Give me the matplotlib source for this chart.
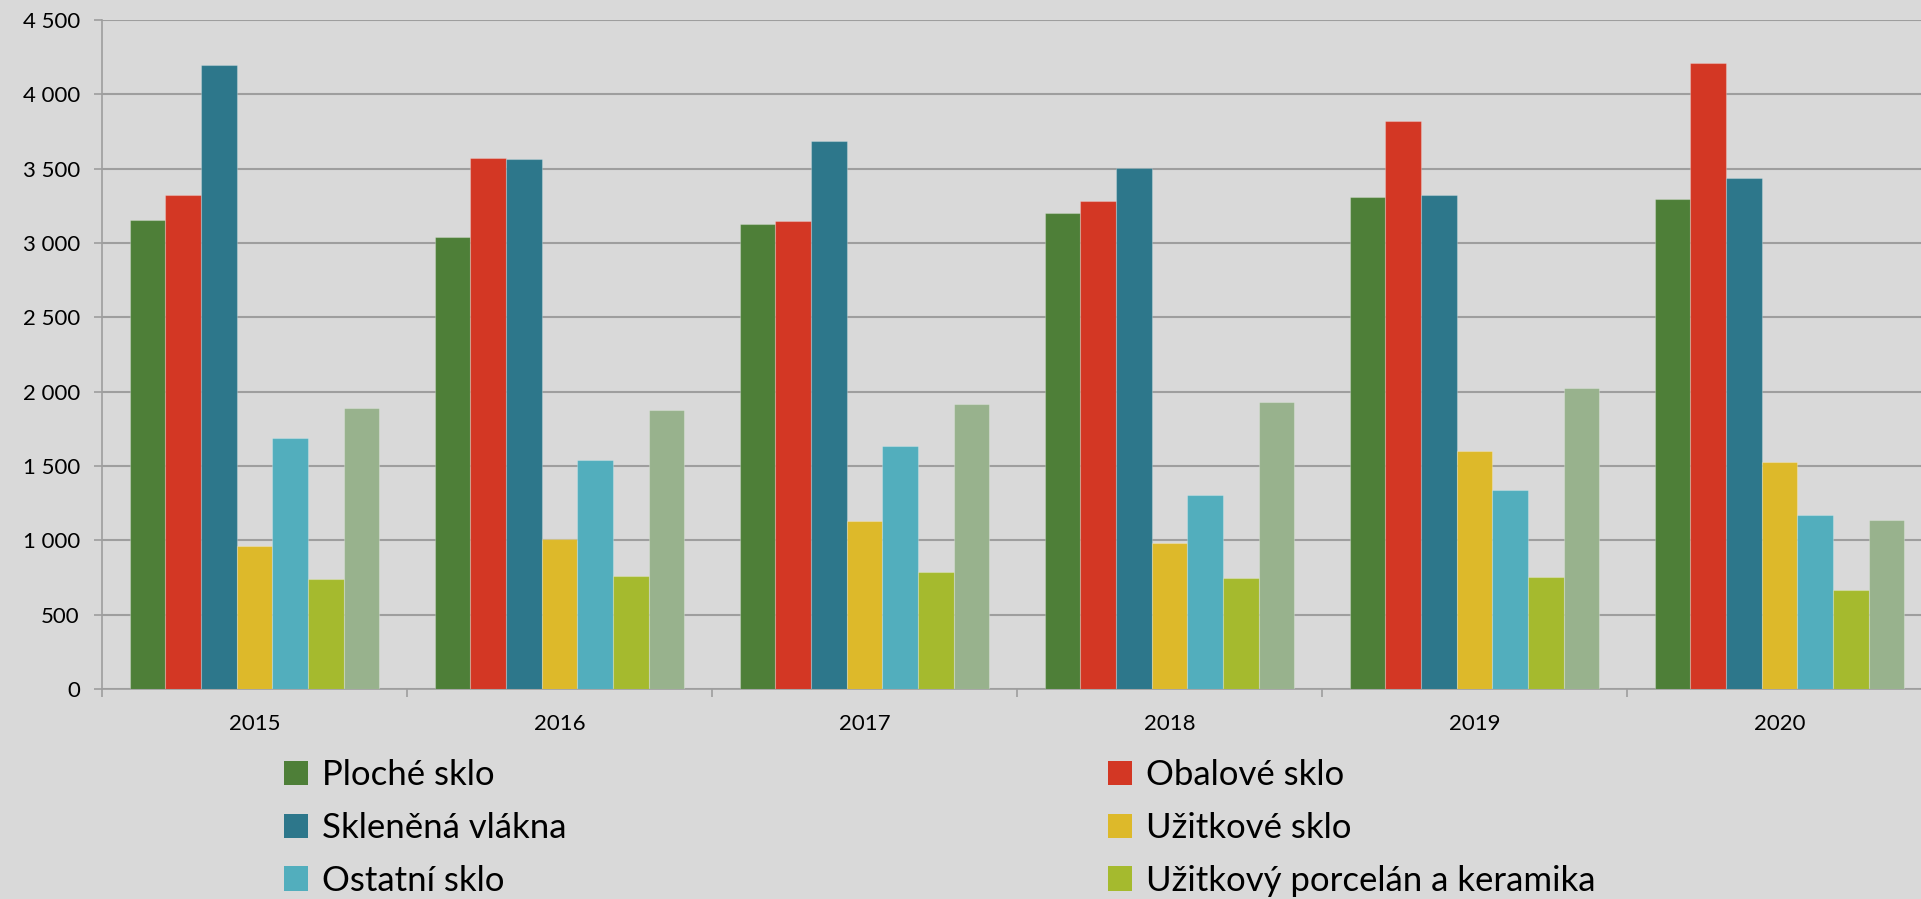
import matplotlib.pyplot as plt
from matplotlib.patches import Patch
from matplotlib.ticker import FuncFormatter, FixedLocator

plt.rcParams['font.family'] = ['Lato', 'DejaVu Sans']

# data
roky = ['2015', '2016', '2017', '2018', '2019', '2020']
serie = ['Ploché sklo', 'Obalové sklo', 'Skleněná vlákna', 'Užitkové sklo',
         'Ostatní sklo', 'Užitkový porcelán a keramika', 'Technická keramika']
ploche = [3158, 3038, 3125, 3200, 3308, 3296]
obalove = [3324, 3572, 3145, 3283, 3818, 4209]
vlakna = [4195, 3563, 3687, 3504, 3326, 3436]
uzitkove = [965, 1012, 1128, 983, 1600, 1527]
ostatni = [1689, 1543, 1632, 1305, 1336, 1170]
porcelan = [742, 760, 786, 745, 753, 666]
technicka = [1887, 1880, 1918, 1928, 2026, 1136]
hodnoty = [ploche, obalove, vlakna, uzitkove, ostatni, porcelan, technicka]
barvy = ['#4E7F38', '#D33724', '#2D778B', '#DDB92A', '#52AEBD', '#A5BA2E', '#98B28D']

W, H = 1921, 899
fig = plt.figure(figsize=(W / 100, H / 100), dpi=100)
fig.patch.set_facecolor('#D9D9D9')
# plot area runs past the right edge of the picture, like the original crop
ax = fig.add_axes([102 / W, (H - 689) / H, 1830 / W, 669 / H])
ax.set_facecolor('#D9D9D9')

sirka = 0.117
for j, (vals, c) in enumerate(zip(hodnoty, barvy)):
    x = [i + 0.5 + (j - 3) * sirka for i in range(len(roky))]
    ax.bar(x, vals, width=sirka, color=c, edgecolor=(1, 1, 1, 0.25),
           linewidth=0.8, zorder=3, label=serie[j])

ax.set_xlim(0, len(roky))
ax.set_ylim(0, 4500)
ax.set_yticks(range(0, 4501, 500))
ax.yaxis.set_major_formatter(FuncFormatter(lambda v, p: f'{int(v):,}'.replace(',', ' ')))
ax.grid(axis='y', color='#9E9E9E', linewidth=1.5, zorder=0)

ax.xaxis.set_major_locator(FixedLocator(range(len(roky) + 1)))
ax.xaxis.set_minor_locator(FixedLocator([i + 0.5 for i in range(len(roky))]))
ax.set_xticklabels([])
ax.set_xticklabels(roky, minor=True)
ax.tick_params(axis='x', which='major', length=6, width=1.2, color='#9E9E9E')
ax.tick_params(axis='x', which='minor', length=0, pad=18, labelsize=16)
ax.tick_params(axis='y', length=6, width=1.2, color='#9E9E9E', pad=10, labelsize=16)

for s in ['top', 'right']:
    ax.spines[s].set_visible(False)
for s in ['left', 'bottom']:
    ax.spines[s].set_color('#9E9E9E')
    ax.spines[s].set_linewidth(1.2)

# legend: only the six entries that fit in the picture
handles = [Patch(facecolor=c, edgecolor='none') for c in barvy]
leva = [0, 2, 4]
prava = [1, 3, 5]
kw = dict(frameon=False, fontsize=25, handlelength=0.69, handleheight=0.69,
          handletextpad=0.4, labelspacing=0.6, borderpad=0, borderaxespad=0,
          loc='upper left')
fig.legend([handles[i] for i in leva], [serie[i] for i in leva],
           bbox_to_anchor=(284 / W, (H - 759) / H), **kw)
fig.legend([handles[i] for i in prava], [serie[i] for i in prava],
           bbox_to_anchor=(1108 / W, (H - 759) / H), **kw)

fig.savefig('out.png', dpi=100, facecolor=fig.get_facecolor())
